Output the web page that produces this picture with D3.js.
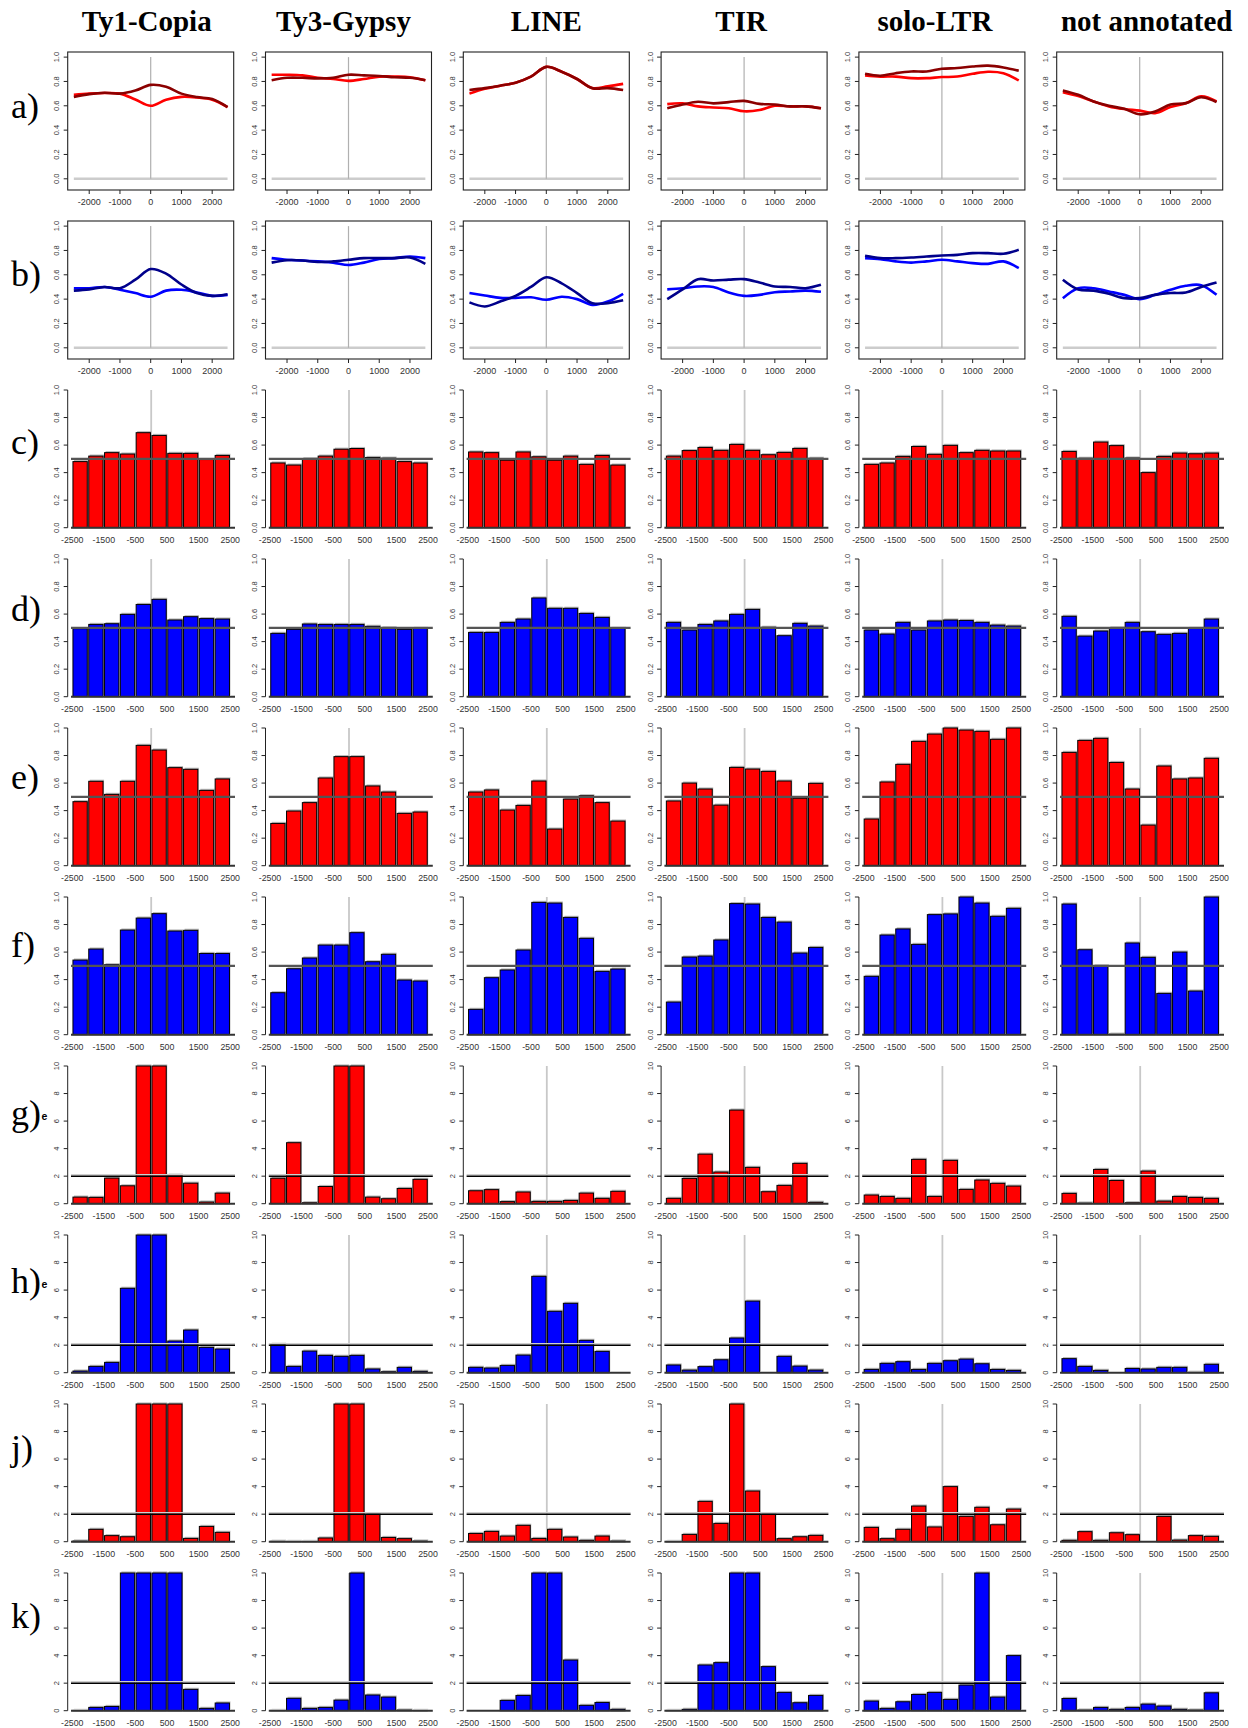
<!DOCTYPE html>
<html>
<head>
<meta charset="utf-8">
<script src="https://cdn.jsdelivr.net/npm/d3@7"></script>
<style>
body { margin: 0; background: #fff; }
text { font-family: "Liberation Sans", Arial, sans-serif; }
</style>
</head>
<body>
<svg id="fig" width="1248" height="1728"></svg>
<script>

// ---- data ----
var columns = ["Ty1-Copia", "Ty3-Gypsy", "LINE", "TIR", "solo-LTR", "not annotated"];
var rowLabels = ["a)", "b)", "c)", "d)", "e)", "f)", "g)", "h)", "j)", "k)"];

// positions of the smoothed curves (rows a, b)
var linePos = [-2500, -2000, -1500, -1000, -500, 0, 500, 1000, 1500, 2000, 2500];
var lineXTicks = [-2000, -1000, 0, 1000, 2000];

// row a: dark red and red curves, one array per column
var aDark = [
  [0.673, 0.696, 0.707, 0.70, 0.725, 0.772, 0.757, 0.70, 0.672, 0.655, 0.589],
  [0.81, 0.83, 0.83, 0.825, 0.83, 0.855, 0.85, 0.845, 0.835, 0.83, 0.81],
  [0.73, 0.745, 0.765, 0.79, 0.84, 0.92, 0.88, 0.82, 0.745, 0.745, 0.73],
  [0.58, 0.61, 0.633, 0.62, 0.63, 0.64, 0.616, 0.61, 0.595, 0.595, 0.58],
  [0.863, 0.847, 0.868, 0.882, 0.882, 0.904, 0.91, 0.923, 0.93, 0.915, 0.888],
  [0.726, 0.69, 0.636, 0.60, 0.575, 0.53, 0.553, 0.61, 0.622, 0.67, 0.63]
];
var aLight = [
  [0.69, 0.70, 0.705, 0.70, 0.652, 0.60, 0.65, 0.673, 0.668, 0.65, 0.589],
  [0.855, 0.855, 0.85, 0.83, 0.82, 0.805, 0.82, 0.84, 0.84, 0.835, 0.81],
  [0.70, 0.74, 0.765, 0.79, 0.84, 0.92, 0.88, 0.82, 0.745, 0.76, 0.78],
  [0.614, 0.62, 0.595, 0.586, 0.58, 0.555, 0.565, 0.60, 0.595, 0.595, 0.58],
  [0.85, 0.84, 0.84, 0.827, 0.827, 0.836, 0.84, 0.863, 0.88, 0.868, 0.808],
  [0.712, 0.68, 0.636, 0.595, 0.573, 0.56, 0.54, 0.59, 0.62, 0.677, 0.636]
];
// row b: dark blue and blue curves
var bDark = [
  [0.47, 0.48, 0.50, 0.49, 0.56, 0.647, 0.61, 0.52, 0.45, 0.427, 0.44],
  [0.70, 0.72, 0.718, 0.705, 0.71, 0.723, 0.737, 0.737, 0.737, 0.742, 0.69],
  [0.373, 0.34, 0.38, 0.427, 0.50, 0.58, 0.53, 0.45, 0.367, 0.367, 0.39],
  [0.40, 0.48, 0.564, 0.553, 0.56, 0.564, 0.537, 0.504, 0.50, 0.49, 0.518],
  [0.756, 0.737, 0.737, 0.742, 0.75, 0.759, 0.764, 0.778, 0.778, 0.773, 0.805],
  [0.56, 0.48, 0.47, 0.444, 0.408, 0.408, 0.435, 0.45, 0.455, 0.50, 0.537]
];
var bLight = [
  [0.49, 0.49, 0.50, 0.477, 0.45, 0.42, 0.47, 0.477, 0.455, 0.427, 0.435],
  [0.737, 0.723, 0.718, 0.71, 0.70, 0.68, 0.70, 0.73, 0.737, 0.75, 0.737],
  [0.45, 0.43, 0.41, 0.41, 0.415, 0.395, 0.42, 0.40, 0.353, 0.38, 0.444],
  [0.48, 0.49, 0.504, 0.50, 0.455, 0.427, 0.435, 0.457, 0.463, 0.47, 0.46],
  [0.737, 0.729, 0.71, 0.70, 0.71, 0.723, 0.71, 0.696, 0.69, 0.71, 0.655],
  [0.408, 0.49, 0.49, 0.463, 0.435, 0.40, 0.435, 0.477, 0.51, 0.515, 0.435]
];

// bar bins (start of each 500 bp window)
var binStarts = [-2500, -2000, -1500, -1000, -500, 0, 500, 1000, 1500, 2000];
var barXTicks = [-2500, -1500, -500, 500, 1500, 2500];

var cVals = [
  [0.48, 0.52, 0.545, 0.535, 0.69, 0.67, 0.54, 0.54, 0.495, 0.525],
  [0.47, 0.455, 0.50, 0.52, 0.57, 0.575, 0.51, 0.505, 0.48, 0.47],
  [0.55, 0.545, 0.49, 0.55, 0.515, 0.49, 0.52, 0.46, 0.525, 0.455],
  [0.52, 0.56, 0.583, 0.562, 0.605, 0.562, 0.53, 0.547, 0.576, 0.504],
  [0.46, 0.47, 0.518, 0.59, 0.533, 0.598, 0.545, 0.562, 0.557, 0.557],
  [0.554, 0.504, 0.622, 0.596, 0.506, 0.40, 0.518, 0.542, 0.537, 0.542]
];
var dVals = [
  [0.494, 0.525, 0.53, 0.598, 0.67, 0.707, 0.557, 0.581, 0.567, 0.564],
  [0.46, 0.489, 0.528, 0.525, 0.525, 0.525, 0.511, 0.50, 0.489, 0.496],
  [0.467, 0.467, 0.54, 0.564, 0.717, 0.642, 0.642, 0.605, 0.576, 0.496],
  [0.54, 0.484, 0.525, 0.55, 0.598, 0.634, 0.504, 0.443, 0.533, 0.513],
  [0.484, 0.455, 0.54, 0.484, 0.55, 0.557, 0.554, 0.54, 0.52, 0.513],
  [0.584, 0.44, 0.477, 0.499, 0.54, 0.472, 0.453, 0.46, 0.496, 0.564]
];
var eVals = [
  [0.465, 0.613, 0.518, 0.613, 0.874, 0.84, 0.712, 0.70, 0.547, 0.63],
  [0.307, 0.397, 0.458, 0.637, 0.792, 0.792, 0.579, 0.535, 0.38, 0.39],
  [0.535, 0.55, 0.404, 0.438, 0.615, 0.266, 0.484, 0.508, 0.458, 0.324],
  [0.47, 0.60, 0.557, 0.44, 0.714, 0.702, 0.685, 0.615, 0.49, 0.598],
  [0.339, 0.608, 0.736, 0.903, 0.956, 1.0, 0.985, 0.976, 0.918, 1.0],
  [0.823, 0.91, 0.925, 0.75, 0.557, 0.295, 0.724, 0.63, 0.637, 0.78]
];
var fVals = [
  [0.542, 0.622, 0.508, 0.76, 0.847, 0.879, 0.753, 0.758, 0.59, 0.59],
  [0.305, 0.479, 0.557, 0.651, 0.651, 0.741, 0.53, 0.584, 0.397, 0.39],
  [0.184, 0.414, 0.47, 0.615, 0.961, 0.956, 0.852, 0.70, 0.46, 0.477],
  [0.237, 0.564, 0.571, 0.688, 0.952, 0.949, 0.852, 0.818, 0.593, 0.634],
  [0.424, 0.724, 0.768, 0.656, 0.872, 0.877, 1.0, 0.956, 0.86, 0.918],
  [0.949, 0.617, 0.50, 0.004, 0.666, 0.562, 0.30, 0.60, 0.317, 1.0]
];
var gVals = [
  [0.48, 0.46, 1.86, 1.3, 10, 10, 2.07, 1.49, 0.12, 0.77],
  [1.85, 4.43, 0.07, 1.25, 10, 10, 0.48, 0.36, 1.11, 1.77],
  [0.94, 1.02, 0.15, 0.85, 0.17, 0.17, 0.24, 0.77, 0.39, 0.9],
  [0.39, 1.84, 3.6, 2.3, 6.8, 2.64, 0.87, 1.33, 2.93, 0.1],
  [0.63, 0.53, 0.39, 3.22, 0.53, 3.15, 1.04, 1.72, 1.48, 1.28],
  [0.75, 0.05, 2.49, 1.69, 0.07, 2.37, 0.19, 0.53, 0.46, 0.39]
];
var hVals = [
  [0.12, 0.46, 0.75, 6.13, 10, 10, 2.3, 3.1, 1.84, 1.72],
  [2.06, 0.46, 1.57, 1.26, 1.19, 1.26, 0.27, 0.07, 0.39, 0.1],
  [0.39, 0.34, 0.53, 1.28, 7.0, 4.46, 5.04, 2.35, 1.55, 0],
  [0.56, 0.19, 0.44, 0.94, 2.52, 5.2, 0, 1.19, 0.48, 0.19],
  [0.24, 0.68, 0.8, 0.24, 0.68, 0.87, 0.99, 0.65, 0.24, 0.17],
  [1.02, 0.46, 0.17, 0, 0.31, 0.27, 0.39, 0.39, 0.03, 0.61]
];
var jVals = [
  [0.05, 0.9, 0.44, 0.36, 10, 10, 10, 0.24, 1.11, 0.68],
  [0.03, 0.02, 0.02, 0.27, 10, 10, 1.99, 0.31, 0.22, 0.05],
  [0.6, 0.75, 0.41, 1.19, 0.24, 0.9, 0.34, 0.1, 0.41, 0.05],
  [0.02, 0.53, 2.93, 1.33, 10, 3.68, 1.99, 0.22, 0.36, 0.46],
  [1.04, 0.22, 0.9, 2.59, 1.07, 4.0, 1.84, 2.5, 1.23, 2.37],
  [0.1, 0.73, 0.1, 0.65, 0.51, 0, 1.84, 0.12, 0.44, 0.39]
];
var kVals = [
  [0.02, 0.24, 0.31, 10, 10, 10, 10, 1.55, 0.17, 0.56],
  [0.02, 0.9, 0.17, 0.24, 0.77, 10, 1.14, 0.99, 0.05, 0.02],
  [0, 0, 0.75, 1.11, 10, 10, 3.68, 0.39, 0.6, 0.1],
  [0.02, 0.1, 3.32, 3.49, 10, 10, 3.2, 1.33, 0.58, 1.11],
  [0.7, 0.17, 0.65, 1.18, 1.33, 0.82, 1.86, 10, 0.99, 4.0],
  [0.89, 0.05, 0.24, 0.1, 0.24, 0.48, 0.34, 0.1, 0.05, 1.3]
];

var propTicks = [0, 0.2, 0.4, 0.6, 0.8, 1.0];
var foldTicks = [0, 2, 4, 6, 8, 10];

var rows = [
  { kind: "line", dark: aDark, light: aLight, darkCol: "#8b0000", lightCol: "#ff0000" },
  { kind: "line", dark: bDark, light: bLight, darkCol: "#00008b", lightCol: "#0000ff" },
  { kind: "bar", vals: cVals, fill: "#ff0000", max: 1, ref: 0.5, ticks: propTicks },
  { kind: "bar", vals: dVals, fill: "#0000ff", max: 1, ref: 0.5, ticks: propTicks },
  { kind: "bar", vals: eVals, fill: "#ff0000", max: 1, ref: 0.5, ticks: propTicks },
  { kind: "bar", vals: fVals, fill: "#0000ff", max: 1, ref: 0.5, ticks: propTicks },
  { kind: "bar", vals: gVals, fill: "#ff0000", max: 10, ref: 2, ticks: foldTicks, stub: true },
  { kind: "bar", vals: hVals, fill: "#0000ff", max: 10, ref: 2, ticks: foldTicks, stub: true },
  { kind: "bar", vals: jVals, fill: "#ff0000", max: 10, ref: 2, ticks: foldTicks },
  { kind: "bar", vals: kVals, fill: "#0000ff", max: 10, ref: 2, ticks: foldTicks }
];

// ---- layout ----
var panelW = 166, panelH = 138;
var colX0 = 67.7, colStep = 197.8;
var rowY0 = 52, rowStep = 169;
var titleShift = [-4, -5, 0, -3, -7, 7];

var svg = d3.select("#fig");

// column titles
columns.forEach(function(name, c) {
  svg.append("text")
    .attr("x", colX0 + c * colStep + panelW / 2 + titleShift[c])
    .attr("y", 31)
    .attr("text-anchor", "middle")
    .style("font-family", "'Liberation Serif', 'Times New Roman', serif")
    .style("font-weight", "bold")
    .style("font-size", "29px")
    .text(name);
});

// row labels
rowLabels.forEach(function(lab, r) {
  var by = 118 + 167.8 * r;
  svg.append("text")
    .attr("x", 11).attr("y", by)
    .style("font-family", "'Liberation Serif', 'Times New Roman', serif")
    .style("font-size", "36px")
    .text(lab);
  if (rows[r].stub) {
    svg.append("text")
      .attr("x", 41.5).attr("y", by - 5)
      .style("font-size", "10.5px")
      .style("font-weight", "bold")
      .text("e");
  }
});

function yLabels(g, scale, ticks, fmt) {
  ticks.forEach(function(t) {
    g.append("line")
      .attr("x1", -4).attr("x2", 0)
      .attr("y1", scale(t)).attr("y2", scale(t))
      .style("stroke", "#222").style("stroke-width", 1);
    g.append("text")
      .attr("transform", "translate(-8.5," + scale(t) + ") rotate(-90)")
      .attr("text-anchor", "middle")
      .style("font-size", "7.5px")
      .style("fill", "#333")
      .text(fmt(t));
  });
}

function drawLinePanel(g, spec, c) {
  var x = d3.scaleLinear().domain([-2700, 2700]).range([0, panelW]);
  var y = d3.scaleLinear().domain([-0.092, 1.042]).range([panelH, 0]);

  g.append("line")
    .attr("x1", x(-2500)).attr("x2", x(2500))
    .attr("y1", y(0)).attr("y2", y(0))
    .style("stroke", "#cccccc").style("stroke-width", 2.5);
  g.append("line")
    .attr("x1", x(0)).attr("x2", x(0))
    .attr("y1", y(0)).attr("y2", y(1))
    .style("stroke", "#b0b0b0").style("stroke-width", 1.2);

  var line = d3.line()
    .x(function(d, i) { return x(linePos[i]); })
    .y(function(d) { return y(d); })
    .curve(d3.curveCatmullRom.alpha(0.5));

  g.append("path").datum(spec.light[c])
    .attr("d", line)
    .style("fill", "none").style("stroke", spec.lightCol).style("stroke-width", 2.6);
  g.append("path").datum(spec.dark[c])
    .attr("d", line)
    .style("fill", "none").style("stroke", spec.darkCol).style("stroke-width", 2.6);

  g.append("rect")
    .attr("width", panelW).attr("height", panelH)
    .style("fill", "none").style("stroke", "#222").style("stroke-width", 1.1);

  yLabels(g, y, propTicks, d3.format(".1f"));

  lineXTicks.forEach(function(t) {
    g.append("line")
      .attr("x1", x(t)).attr("x2", x(t))
      .attr("y1", panelH).attr("y2", panelH + 4)
      .style("stroke", "#222");
    g.append("text")
      .attr("x", x(t)).attr("y", panelH + 15)
      .attr("text-anchor", "middle")
      .style("font-size", "9px").style("fill", "#333")
      .text(t);
  });
}

function drawBarPanel(g, spec, c) {
  var x = d3.scaleLinear().domain([-2500, 2500]).range([4.5, 162.5]);
  var y = d3.scaleLinear().domain([0, spec.max]).range([137.7, 0]);
  var vals = spec.vals[c];
  var gap = 1.5;
  var bw = x(500) - x(0) - gap;

  // vertical line at 0
  g.append("line")
    .attr("x1", x(0)).attr("x2", x(0))
    .attr("y1", y(0)).attr("y2", y(spec.max))
    .style("stroke", "#c8c8c8").style("stroke-width", 1.8);

  // grey shadow of each bar
  g.selectAll("rect.shadow").data(vals).enter().append("rect")
    .attr("class", "shadow")
    .attr("x", function(d, i) { return x(binStarts[i]) + gap / 2 + 1; })
    .attr("y", function(d) { return y(Math.min(d, spec.max)) - 1.6; })
    .attr("width", bw)
    .attr("height", function(d) { return y(0) - y(Math.min(d, spec.max)); })
    .style("fill", "#b8b8b8");

  g.selectAll("rect.bar").data(vals).enter().append("rect")
    .attr("class", "bar")
    .attr("x", function(d, i) { return x(binStarts[i]) + gap / 2; })
    .attr("y", function(d) { return y(Math.min(d, spec.max)); })
    .attr("width", bw)
    .attr("height", function(d) { return y(0) - y(Math.min(d, spec.max)); })
    .style("fill", spec.fill)
    .style("stroke", "#000").style("stroke-width", 1);

  // baseline
  g.append("line")
    .attr("x1", 3.3).attr("x2", 167.3)
    .attr("y1", y(0)).attr("y2", y(0))
    .style("stroke", "#333").style("stroke-width", 2);

  // reference line
  if (spec.max === 1) {
    g.append("line")
      .attr("x1", 3.3).attr("x2", 167.3)
      .attr("y1", y(spec.ref)).attr("y2", y(spec.ref))
      .style("stroke", "#555").style("stroke-width", 2.2);
  } else {
    g.append("line")
      .attr("x1", 3.3).attr("x2", 167.3)
      .attr("y1", y(spec.ref) - 1.4).attr("y2", y(spec.ref) - 1.4)
      .style("stroke", "#cfcfcf").style("stroke-width", 1.4);
    g.append("line")
      .attr("x1", 3.3).attr("x2", 167.3)
      .attr("y1", y(spec.ref)).attr("y2", y(spec.ref))
      .style("stroke", "#000").style("stroke-width", 1.5);
  }

  // y axis
  g.append("line")
    .attr("x1", 0).attr("x2", 0)
    .attr("y1", y(0)).attr("y2", y(spec.max))
    .style("stroke", "#222").style("stroke-width", 1);
  yLabels(g, y, spec.ticks, spec.max === 1 ? d3.format(".1f") : d3.format("d"));

  barXTicks.forEach(function(t) {
    g.append("text")
      .attr("x", x(t)).attr("y", y(0) + 15)
      .attr("text-anchor", "middle")
      .style("font-size", "8.8px").style("fill", "#333")
      .text(t);
  });
}

rows.forEach(function(spec, r) {
  columns.forEach(function(name, c) {
    var g = svg.append("g")
      .attr("transform", "translate(" + (colX0 + c * colStep) + "," + (rowY0 + r * rowStep) + ")");
    if (spec.kind === "line") drawLinePanel(g, spec, c);
    else drawBarPanel(g, spec, c);
  });
});
</script>
</body>
</html>
